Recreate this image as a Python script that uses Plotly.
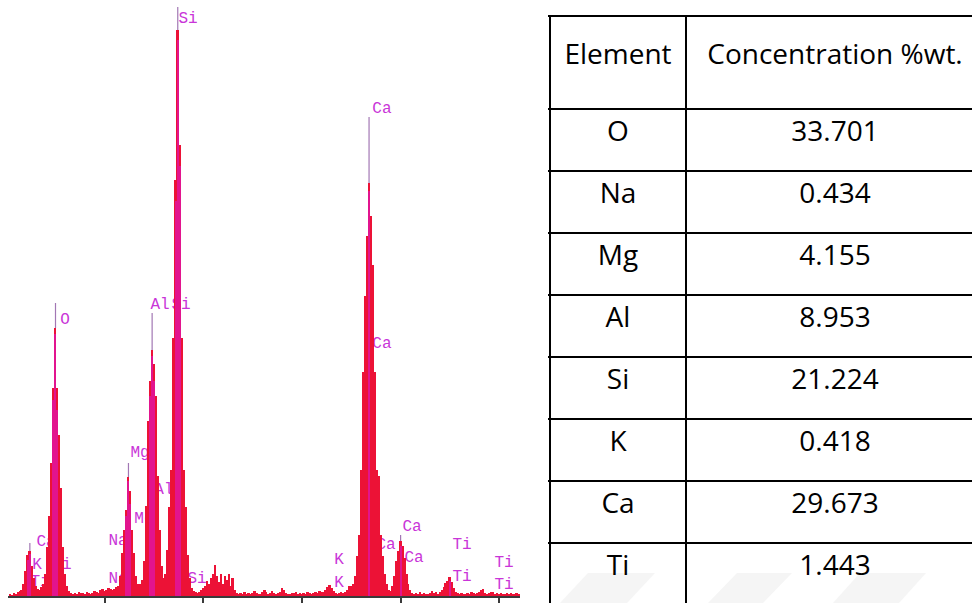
import plotly.graph_objects as go

# ---------------------------------------------------------------------------
# EDS spectrum: counts per 20 eV channel, first channel at 0.00 keV
# ---------------------------------------------------------------------------
CHANNEL_KEV = 0.02
spectrum_counts = [
    0, 0, 2, 1, 3, 2, 4, 5, 6, 12,                  # 0.00 - 0.18
    25, 41, 45, 30, 18, 10, 7, 6, 9, 12,            # 0.20 - 0.38
    22, 49, 80, 133, 208, 268, 208, 161, 108, 49,   # 0.40 - 0.58
    22, 10, 5, 3, 2, 3, 2, 4, 3, 3,                 # 0.60 - 0.78
    2, 4, 3, 2, 3, 5, 4, 3, 6, 7,                   # 0.80 - 0.98
    5, 6, 8, 7, 6, 7, 9, 10, 20, 43,                # 1.00 - 1.18
    66, 86, 119, 105, 66, 43, 20, 12, 12, 16,       # 1.20 - 1.38
    35, 90, 175, 215, 246, 232, 200, 120, 66, 30,   # 1.40 - 1.58
    18, 22, 46, 89, 126, 258, 416, 566, 451, 258,   # 1.60 - 1.78
    126, 89, 41, 18, 8, 5, 4, 3, 4, 6,              # 1.80 - 1.98
    8, 10, 15, 12, 18, 22, 31, 20, 14, 22,          # 2.00 - 2.18
    12, 20, 16, 22, 10, 18, 6, 3, 2, 3,             # 2.20 - 2.38
    2, 4, 2, 3, 2, 3, 5, 3, 2, 2,                   # 2.40 - 2.58
    4, 6, 4, 2, 3, 5, 3, 2, 3, 4,                   # 2.60 - 2.78
    8, 6, 3, 2, 2, 3, 3, 4, 2, 3,                   # 2.80 - 2.98
    2, 3, 2, 4, 3, 2, 3, 4, 3, 5,                   # 3.00 - 3.18
    4, 4, 6, 9, 11, 8, 5, 3, 2, 3,                  # 3.20 - 3.38
    4, 3, 4, 6, 10, 10, 12, 20, 40, 61,             # 3.40 - 3.58
    126, 224, 300, 360, 413, 380, 331, 224, 126, 120,  # 3.60 - 3.78
    61, 40, 22, 12, 6, 5, 10, 20, 35, 45,           # 3.80 - 3.98
    55, 50, 38, 22, 12, 6, 3, 2, 3, 2,              # 4.00 - 4.18
    4, 2, 3, 2, 2, 3, 5, 3, 4, 2,                   # 4.20 - 4.38
    4, 6, 9, 13, 15, 19, 14, 8, 4, 3,               # 4.40 - 4.58
    2, 3, 2, 2, 3, 2, 4, 3, 2, 3,                   # 4.60 - 4.78
    4, 6, 7, 3, 2, 3, 4, 4, 2, 3,                   # 4.80 - 4.98
    2, 3, 2, 2, 3, 2, 3, 2, 2, 3,                   # 5.00 - 5.18
    2,                                              # 5.20
]
spectrum_kev = [round(i * CHANNEL_KEV, 2) for i in range(len(spectrum_counts))]

# fitted line profiles (core channels of the main peaks)
fit_kev = [0.22, 0.24, 0.48, 0.50, 0.52, 1.22, 1.24, 1.26, 1.46, 1.48, 1.50,
           1.72, 1.74, 1.76, 3.68, 4.00, 4.50]
fit_counts = [36, 42, 196, 262, 186, 80, 115, 92, 200, 240, 215,
              395, 556, 430, 405, 50, 15]

# KLM marker lines: line energy and marker height
marker_kev = [0.24, 0.50, 1.24, 1.48, 1.74, 3.68, 4.00]
marker_top = [53, 293, 133, 283, 589, 479, 61]

# peak identification labels
label_text = ["Si", "O", "Al", "Si", "Ca", "Ca", "Mg", "Al", "Mg", "Na", "Na",
              "Ca", "K", "Ti", "Ti", "Si", "K", "K", "Ca", "Ca", "Ca",
              "Ti", "Ti", "Ti", "Ti"]
label_kev = [1.844, 0.596, 1.560, 1.773, 3.811, 3.811, 1.357, 1.600, 1.397,
             1.134, 1.134, 0.404, 0.312, 0.566, 0.343, 1.935, 3.375, 3.375,
             4.116, 3.852, 4.136, 4.623, 4.623, 5.049, 5.049]
label_counts = [577, 276, 291, 291, 487, 252, 143, 106, 77, 55, 17,
                54, 31, 31, 14, 17, 36, 13, 69, 51, 38, 51, 19, 33, 11]

# ---------------------------------------------------------------------------
# Composition table
# ---------------------------------------------------------------------------
table_header = ["Element", "Concentration %wt."]
elements = ["O", "Na", "Mg", "Al", "Si", "K", "Ca", "Ti"]
concentrations = ["33.701", "0.434", "4.155", "8.953", "21.224", "0.418",
                  "29.673", "1.443"]

W, H = 972, 603
RED = "#ec1236"
PINK = "#e2148e"
LABEL = "#c935d8"
MARKER = "#a277b4"

fig = go.Figure()

# labels live on the base subplot so the spectrum is drawn over them
fig.add_trace(go.Scatter(
    x=label_kev, y=label_counts, text=label_text, mode="text",
    textposition="middle center",
    textfont=dict(family="Liberation Mono", size=16, color=LABEL),
    cliponaxis=False, hoverinfo="skip", xaxis="x", yaxis="y"))

fig.add_trace(go.Bar(
    x=spectrum_kev, y=spectrum_counts, width=CHANNEL_KEV,
    marker=dict(color=RED, line=dict(width=0)), xaxis="x2", yaxis="y2"))

fig.add_trace(go.Bar(
    x=fit_kev, y=fit_counts, width=0.012,
    marker=dict(color=PINK, line=dict(width=0)), xaxis="x2", yaxis="y2"))

# marker lines from the peak body up to the label
mx, my = [], []
for e, top in zip(marker_kev, marker_top):
    base = spectrum_counts[spectrum_kev.index(e)]
    mx += [e, e, None]
    my += [base, top, None]
fig.add_trace(go.Scatter(
    x=mx, y=my, mode="lines", line=dict(color=MARKER, width=1.2),
    hoverinfo="skip", xaxis="x2", yaxis="y2"))

# ---------------------------------------------------------------------------
# Table drawn on its own axes: x in pixel-like units, y in row units
# ---------------------------------------------------------------------------
HEADER_ROWS = 1.5
col_edges = [0, 136]
col_centers = [68, 285]
shapes = []
row_edges = [0, HEADER_ROWS] + [HEADER_ROWS + i + 1 for i in range(len(elements))]
for r in row_edges:
    shapes.append(dict(type="line", xref="x3", yref="y3", x0=-2, x1=460,
                       y0=r, y1=r, line=dict(color="black", width=2)))
for c in col_edges:
    shapes.append(dict(type="line", xref="x3", yref="y3", x0=c, x1=c,
                       y0=0, y1=HEADER_ROWS + len(elements) + 1,
                       line=dict(color="black", width=2)))

tx, ty, tt = [], [], []
for c, h in zip(col_centers, table_header):
    tx.append(c); ty.append(0.66); tt.append(h)
for i, (el, cval) in enumerate(zip(elements, concentrations)):
    y = HEADER_ROWS + i + 0.40
    tx += [col_centers[0], col_centers[1]]
    ty += [y, y]
    tt += [el, cval]
fig.add_trace(go.Scatter(
    x=tx, y=ty, text=tt, mode="text", textposition="middle center",
    textfont=dict(family="Open Sans", size=28, color="black"),
    cliponaxis=False, hoverinfo="skip", xaxis="x3", yaxis="y3"))

# faint watermark bands under the table
for x0, x1, x2, x3 in [(560, 588, 655, 627), (708, 737, 792, 763),
                       (833, 860, 926, 899)]:
    shapes.append(dict(type="path", xref="paper", yref="paper", layer="below",
                       path=f"M {x0/W} 0 L {x1/W} {30/H} L {x2/W} {30/H} L {x3/W} 0 Z",
                       fillcolor="#f5f5f5", line=dict(width=0)))

x_dom = [8 / W, 520 / W]
x_rng = [(8 - 6.2) / 98.6, (520 - 6.2) / 98.6]
y_dom = [7 / H, 1]
y_rng = [0, 596]

fig.update_layout(
    width=W, height=H, margin=dict(l=0, r=0, t=0, b=0),
    paper_bgcolor="white", plot_bgcolor="rgba(0,0,0,0)",
    showlegend=False, barmode="overlay", bargap=0,
    shapes=shapes,
    xaxis=dict(domain=x_dom, range=x_rng, showgrid=False, zeroline=False,
               showline=True, linecolor="#3a3a3a", linewidth=1.5,
               ticks="outside", tickvals=[1, 2, 3, 4, 5], ticklen=7,
               tickwidth=1.5, tickcolor="#3a3a3a", showticklabels=False),
    yaxis=dict(domain=y_dom, range=y_rng, visible=False),
    xaxis2=dict(overlaying="x", range=x_rng, visible=False),
    yaxis2=dict(overlaying="y", range=y_rng, visible=False),
    xaxis3=dict(domain=[540 / W, 1], range=[-10, 422], visible=False),
    yaxis3=dict(domain=[0, 1], range=[(H - 16) / 62, -16 / 62], visible=False),
)

fig.write_html("out.html")
